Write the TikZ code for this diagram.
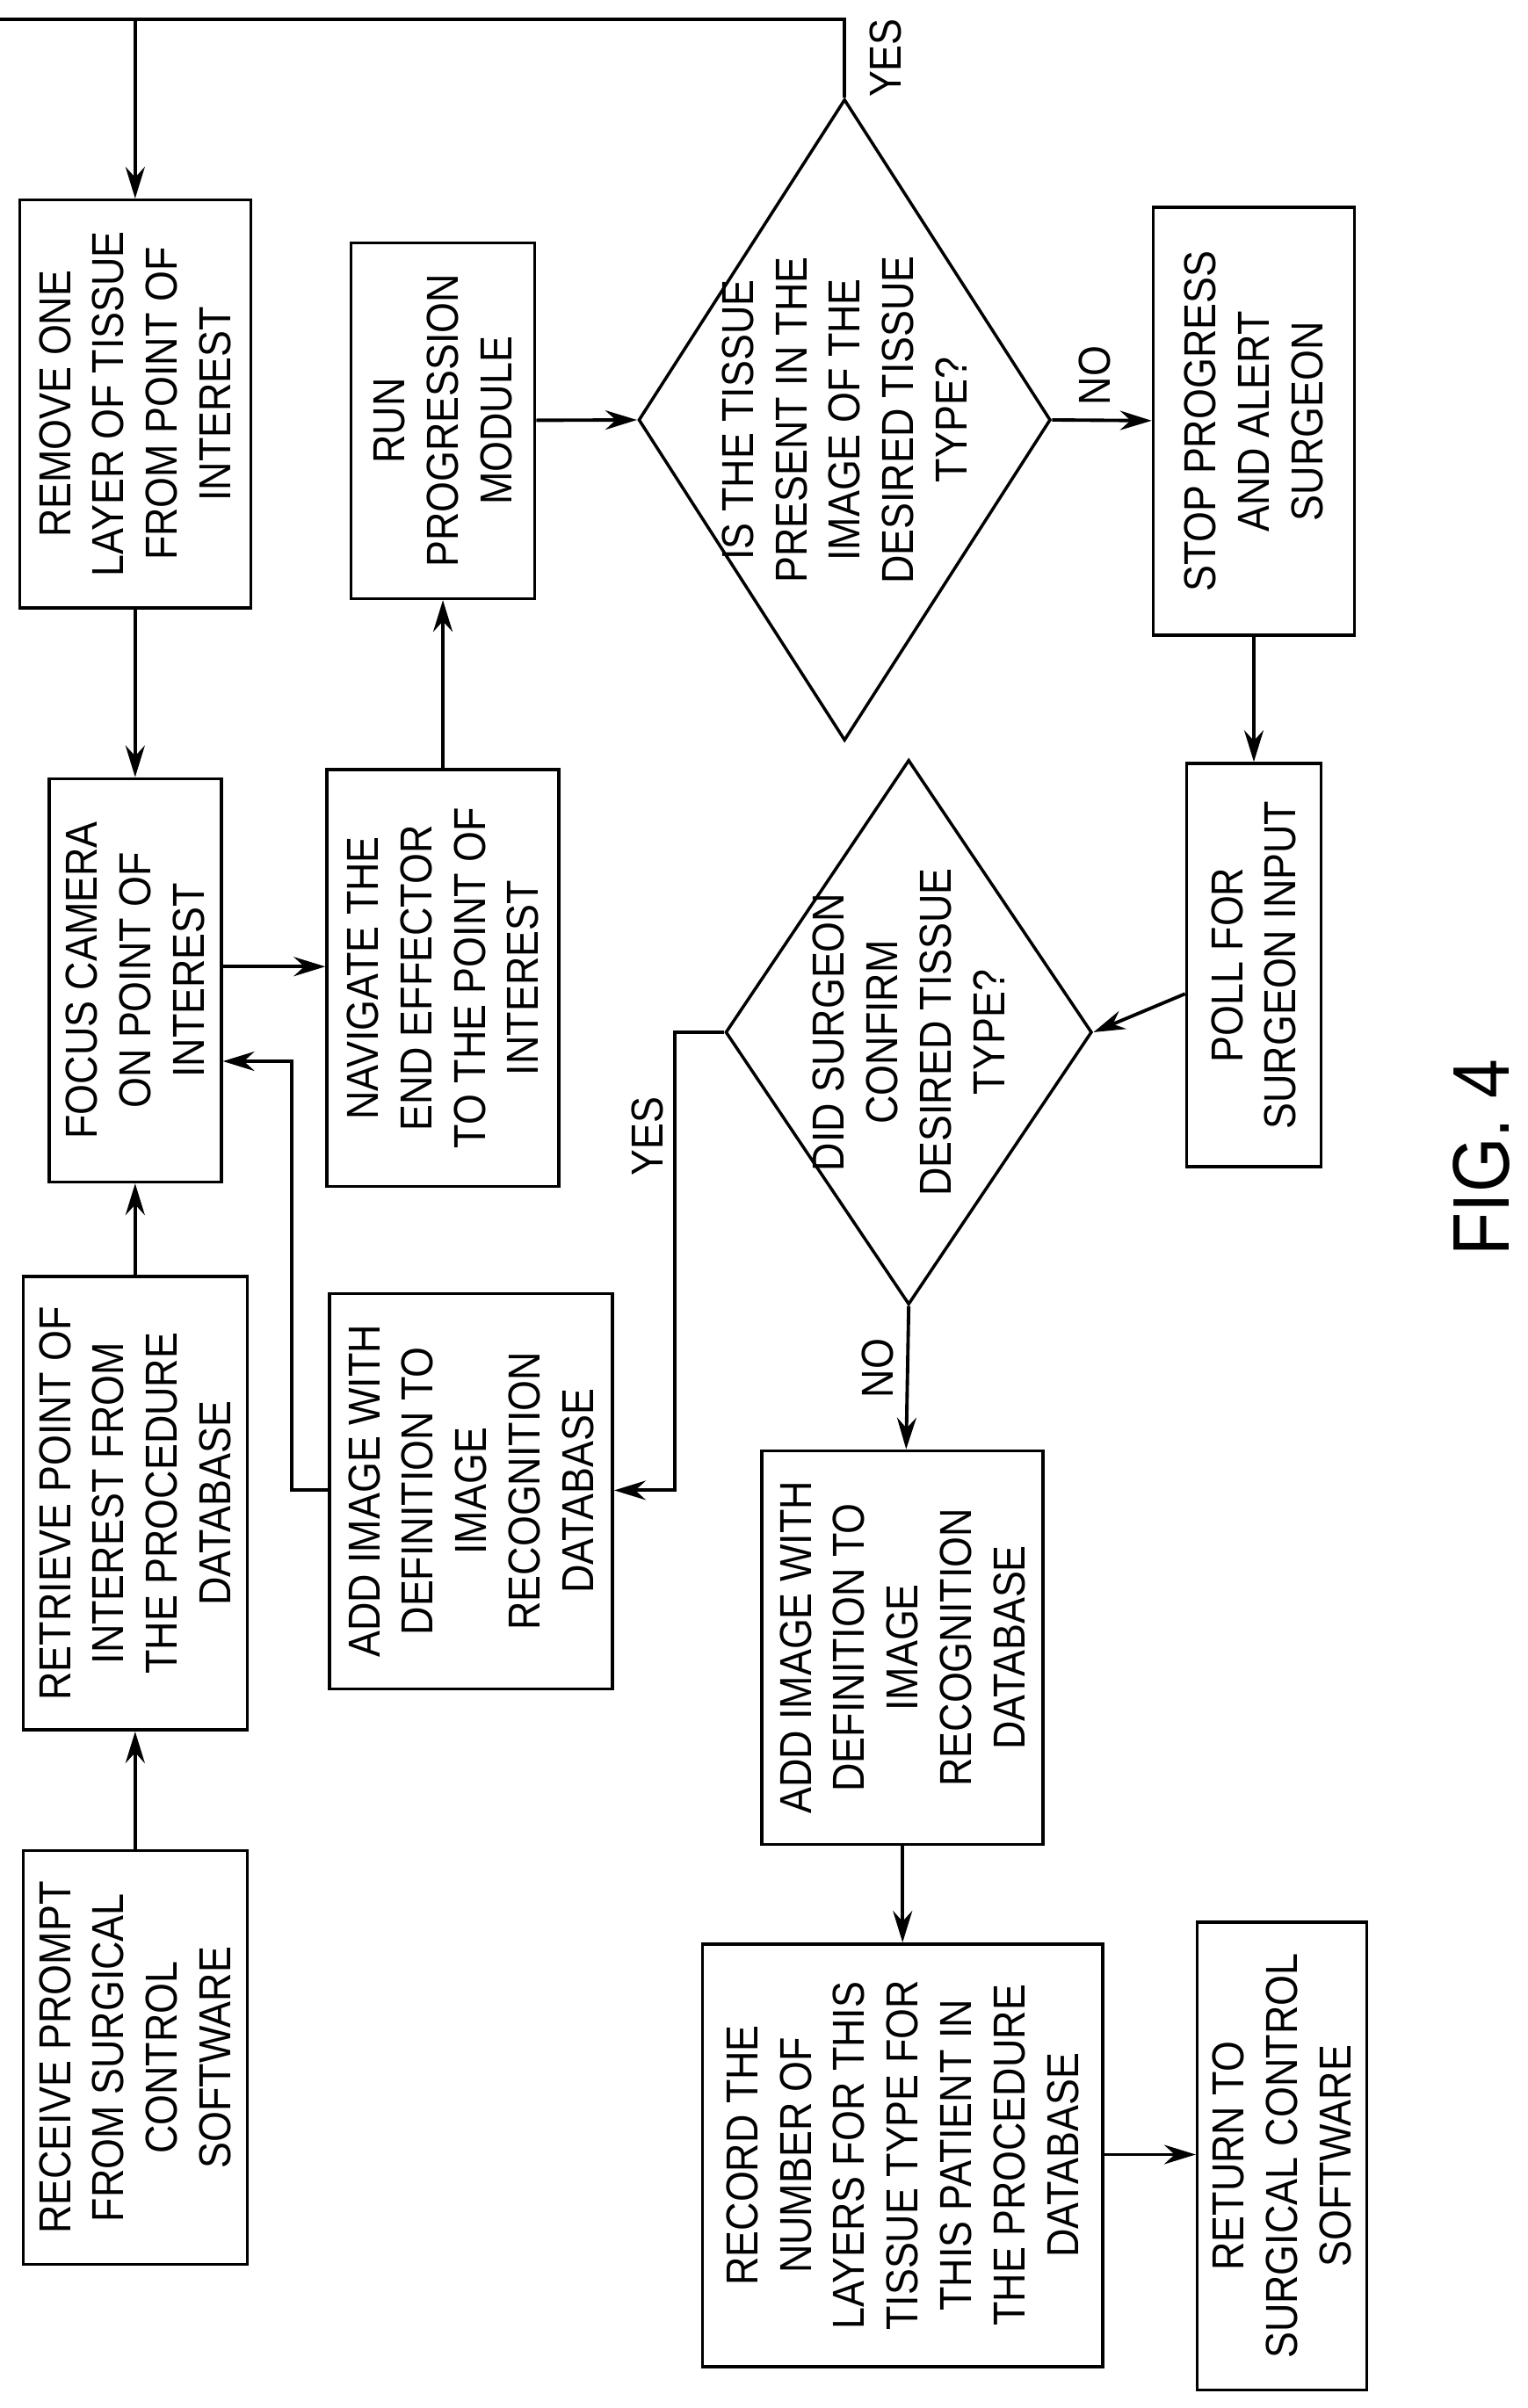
\documentclass[tikz,border=0pt]{standalone}
\usepackage{fontspec}
\setmainfont{Liberation Sans}[FakeStretch=0.88]
\usetikzlibrary{shapes.geometric,arrows.meta}
\tikzset{
  box/.style={draw, line width=1pt, rotate=90, align=center, inner sep=2pt,
    font=\fontsize{14.5}{17.3}\selectfont},
  dia/.style={draw, line width=1pt, diamond, inner sep=0pt},
  txt/.style={rotate=90, align=center, font=\fontsize{14.5}{17.3}\selectfont},
  arr/.style={line width=1.1pt, -{Stealth[length=3.6mm,width=2.2mm,inset=1.2mm]}},
  ln/.style={line width=1.1pt}
}
\begin{document}
\begin{tikzpicture}[x=0.01738cm, y=-0.01738cm]
\useasboundingbox (0,0) rectangle (1000,1577);

% left column
\node[box, minimum width=4.71cm, minimum height=2.55cm] (recv) at (88.5,1347.5)
  {RECEIVE PROMPT\\FROM SURGICAL\\CONTROL\\SOFTWARE};
\node[box, minimum width=5.16cm, minimum height=2.55cm] (retr) at (88.5,984.5)
  {RETRIEVE POINT OF\\INTEREST FROM\\THE PROCEDURE\\DATABASE};
\node[box, minimum width=4.59cm, minimum height=1.96cm] (focus) at (88.5,642)
  {FOCUS CAMERA\\ON POINT OF\\INTEREST};
\node[box, minimum width=4.64cm, minimum height=2.63cm] (remove) at (88.5,264.5)
  {REMOVE ONE\\LAYER OF TISSUE\\FROM POINT OF\\INTEREST};

% second column
\node[box, minimum width=4.50cm, minimum height=3.22cm] (addA) at (308.5,976.5)
  {ADD IMAGE WITH\\DEFINITION TO\\IMAGE\\RECOGNITION\\DATABASE};
\node[box, minimum width=4.74cm, minimum height=2.64cm] (nav) at (290,640.5)
  {NAVIGATE THE\\END EFFECTOR\\TO THE POINT OF\\INTEREST};
\node[box, minimum width=4.05cm, minimum height=2.09cm] (run) at (290,275.5)
  {RUN\\PROGRESSION\\MODULE};

% decisions
\node[dia, minimum width=4.69cm, minimum height=7.30cm] (tissue) at (553,275) {};
\node[txt] (tissueT) at (tissue) {IS THE TISSUE\\PRESENT IN THE\\IMAGE OF THE\\DESIRED TISSUE\\TYPE?};
\node[dia, minimum width=4.17cm, minimum height=6.20cm] (conf) at (595,676) {};
\node[txt] (confT) at (conf) {DID SURGEON\\CONFIRM\\DESIRED TISSUE\\TYPE?};

% right part
\node[box, minimum width=4.87cm, minimum height=2.29cm] (stop) at (821,276)
  {STOP PROGRESS\\AND ALERT\\SURGEON};
\node[box, minimum width=4.59cm, minimum height=1.53cm] (poll) at (821,632)
  {POLL FOR\\SURGEON INPUT};
\node[box, minimum width=4.48cm, minimum height=3.20cm] (addB) at (591,1079)
  {ADD IMAGE WITH\\DEFINITION TO\\IMAGE\\RECOGNITION\\DATABASE};
\node[box, minimum width=4.81cm, minimum height=4.55cm] (rec) at (591,1411.5)
  {RECORD THE\\NUMBER OF\\LAYERS FOR THIS\\TISSUE TYPE FOR\\THIS PATIENT IN\\THE PROCEDURE\\DATABASE};
\node[box, minimum width=5.32cm, minimum height=1.93cm] (ret) at (839.5,1412)
  {RETURN TO\\SURGICAL CONTROL\\SOFTWARE};

\node[rotate=90, font=\fontsize{26}{30}\selectfont] (fig) at (970,758) {FIG. 4};

% connectors
\draw[arr] (recv) -- (retr);
\draw[arr] (retr) -- (focus);
\draw[arr] (remove) -- (focus);
\draw[arr] (focus.south |- 0,633) -- (nav.north |- 0,633);
\draw[arr] (nav) -- (run);
\draw[arr] (run) -- (tissue.west);
\draw[arr] (tissue.east) -- (stop);
\node[txt] (noA) at (717,246) {NO};
\draw[arr] (tissue.north) |- (0,12.6) -| (remove.east);
\node[txt] (yesA) at (580,38) {YES};
\draw[arr] (stop) -- (poll);
\draw[arr] (poll) -- (conf.east);
\draw[arr] (conf.west) -| (442,976) -- (addA.south |- 0,976);
\node[txt] (yesB) at (424,744) {YES};
\draw[arr] (addA.north |- 0,976) -| (191,695) -- (focus.south |- 0,695);
\draw[arr] (conf.south) -- (addB);
\node[txt] (noB) at (575,896) {NO};
\draw[arr] (addB) -- (rec);
\draw[arr] (rec.south |- 0,1411) -- (ret.north |- 0,1411);
\end{tikzpicture}
\end{document}
